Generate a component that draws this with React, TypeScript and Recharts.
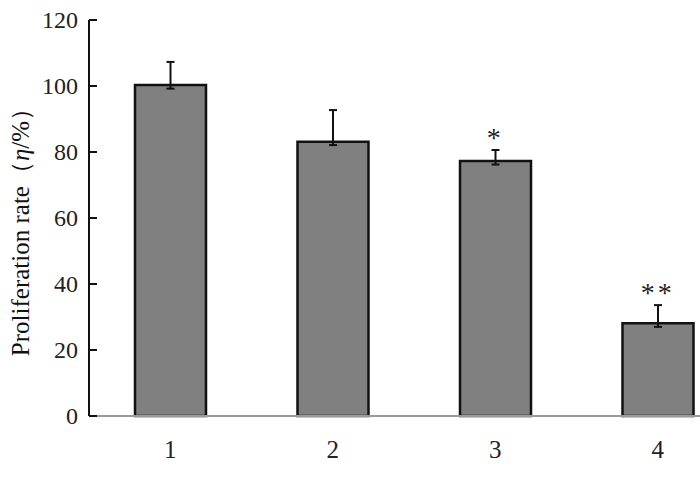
import React from 'react';
import { ComposedChart, Bar, Line, XAxis, YAxis, ErrorBar, LabelList, Label } from 'recharts';

const groups = ['1', '2', '3', '4'];
const rates = [100.3, 83.1, 77.3, 28.1];
const errLow = [1.1, 1.0, 1.1, 1.1];
const errHigh = [7.0, 9.6, 3.3, 5.5];
const marks = ['', '', '*', '**'];
const yTicks = [0, 20, 40, 60, 80, 100, 120];

const data = groups.map((g, i) => ({
  name: g,
  rate: rates[i],
  err: [errLow[i], errHigh[i]],
  top: rates[i] + errHigh[i],
  mark: marks[i],
}));

const FONT = '"Liberation Serif", "DejaVu Serif", serif';

const YTick = ({ x, y, payload }: any) => (
  <g>
    <line x1={x + 11} y1={y} x2={x + 19} y2={y} stroke="#111" strokeWidth={2} />
    <text x={x} y={y} dy={8} textAnchor="end" fontSize={24} fontFamily={FONT} fill="#222">
      {payload.value}
    </text>
  </g>
);

const YLabel = ({ viewBox }: any) => {
  const cx = viewBox.x + 20;
  const cy = viewBox.y + viewBox.height / 2 + 8;
  return (
    <text
      x={cx}
      y={cy}
      transform={`rotate(-90, ${cx}, ${cy})`}
      textAnchor="middle"
      dominantBaseline="central"
      fontSize={25}
      fontFamily={FONT}
      fill="#111"
    >
      Proliferation rate（<tspan fontStyle="italic">η</tspan>/%）
    </text>
  );
};

// significance marks sit just above the error bar cap
const Mark = ({ x, y, value }: any) =>
  value ? (
    <text x={x} y={y - 3} textAnchor="middle" fontSize={28} letterSpacing={3} fontFamily={FONT} fill="#222">
      {value}
    </text>
  ) : null;

export default function App() {
  return (
    <div style={{ position: 'absolute', left: 0, top: 0, width: 700, height: 499, overflow: 'hidden', background: '#fff' }}>
      <ComposedChart
        width={739}
        height={499}
        data={data}
        margin={{ top: 20, right: 0, bottom: 43, left: 0 }}
      >
        <XAxis
          dataKey="name"
          stroke="#9a9a9a"
          strokeWidth={2}
          tickLine={false}
          tickSize={0}
          tickMargin={24}
          height={40}
          tick={{ fontSize: 25, fontFamily: FONT, fill: '#222' }}
        />
        <YAxis
          domain={[0, 120]}
          ticks={yTicks}
          width={89}
          stroke="#111"
          strokeWidth={2}
          tickLine={false}
          tickSize={0}
          tickMargin={11}
          tick={<YTick />}
          interval={0}
        >
          <Label content={<YLabel />} />
        </YAxis>
        <Bar dataKey="rate" fill="#808080" stroke="#111" strokeWidth={2.5} barSize={71} isAnimationActive={false}>
          <ErrorBar dataKey="err" width={4} stroke="#111" strokeWidth={2} direction="y" />
        </Bar>
        <Line dataKey="top" stroke="none" dot={false} activeDot={false} isAnimationActive={false}>
          <LabelList dataKey="mark" content={<Mark />} />
        </Line>
      </ComposedChart>
    </div>
  );
}
